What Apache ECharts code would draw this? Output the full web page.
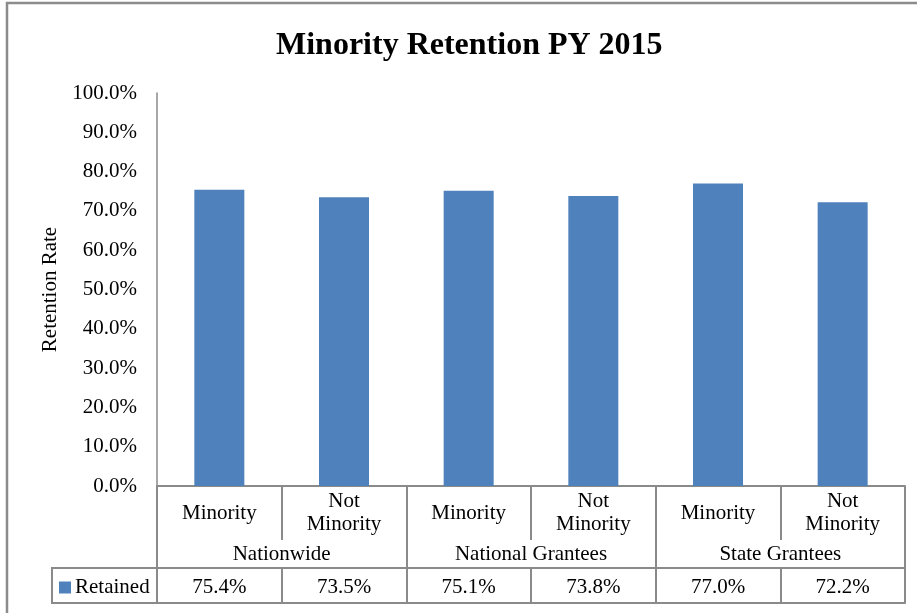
<!DOCTYPE html>
<html>
<head>
<meta charset="utf-8">
<script src="https://cdn.jsdelivr.net/npm/echarts@6/dist/echarts.min.js"></script>
<style>
  html, body { margin: 0; padding: 0; background: #fff; }
  #chart { width: 917px; height: 613px; }
</style>
</head>
<body>
<div id="chart"></div>
<script>
// data
var categories = ['Minority', 'Not\nMinority', 'Minority', 'Not\nMinority', 'Minority', 'Not\nMinority'];
var groups = ['Nationwide', 'National Grantees', 'State Grantees'];
var retained = [75.4, 73.5, 75.1, 73.8, 77.0, 72.2];
var yTicks = [0, 10, 20, 30, 40, 50, 60, 70, 80, 90, 100];

var font = "'Liberation Serif', 'Times New Roman', serif";
var lineGray = '#8a8a8a';

var chart = echarts.init(document.getElementById('chart'));

var option = {
  animation: false,
  textStyle: { fontFamily: font, color: '#000' },
  title: {
    text: 'Minority Retention PY 2015',
    left: 276,
    top: 30,
    padding: 0,
    textStyle: { fontFamily: font, fontSize: 32, fontWeight: 'bold', color: '#000' }
  },
  legend: {
    data: ['Retained'],
    left: 59,
    top: 577,
    padding: 0,
    icon: 'rect',
    itemWidth: 12,
    itemHeight: 12,
    itemGap: 5,
    textStyle: { fontFamily: font, fontSize: 21, color: '#000', padding: [0, 0, 0, -1] }
  },
  grid: { left: 157, right: 12, top: 93, bottom: 127 },
  xAxis: [
    {
      type: 'category',
      data: categories,
      position: 'bottom',
      axisLine: { lineStyle: { color: lineGray, width: 2 } },
      axisTick: { show: true, interval: 0, length: 54, lineStyle: { color: lineGray, width: 2 } },
      axisLabel: {
        interval: 0, margin: 27, verticalAlign: 'middle', lineHeight: 23,
        fontFamily: font, fontSize: 21, color: '#000'
      }
    },
    {
      type: 'category',
      data: groups,
      position: 'bottom',
      offset: 0,
      axisLine: { show: false },
      axisTick: { show: true, interval: 0, length: 117, lineStyle: { color: lineGray, width: 2 } },
      axisLabel: {
        interval: 0, margin: 68, verticalAlign: 'middle',
        fontFamily: font, fontSize: 21, color: '#000'
      }
    },
    {
      type: 'category',
      data: categories,
      position: 'bottom',
      offset: 82,
      axisLine: { show: true, lineStyle: { color: lineGray, width: 2 } },
      axisTick: { show: true, interval: 0, length: 35, lineStyle: { color: lineGray, width: 2 } },
      axisLabel: {
        interval: 0, margin: 19, verticalAlign: 'middle',
        fontFamily: font, fontSize: 21, color: '#000',
        formatter: function (v, i) { return retained[i].toFixed(1) + '%'; }
      }
    },
    {
      type: 'category',
      data: categories,
      position: 'bottom',
      offset: 117,
      axisLine: { show: true, lineStyle: { color: lineGray, width: 2 } },
      axisTick: { show: false },
      axisLabel: { show: false }
    }
  ],
  yAxis: {
    type: 'value',
    min: yTicks[0],
    max: yTicks[yTicks.length - 1],
    interval: 10,
    name: 'Retention Rate',
    nameLocation: 'middle',
    nameGap: 94,
    nameTextStyle: { fontFamily: font, fontSize: 21, color: '#000' },
    axisLine: { show: true, lineStyle: { color: lineGray, width: 1.5 } },
    axisTick: { show: false },
    splitLine: { show: false },
    axisLabel: {
      margin: 20,
      fontFamily: font, fontSize: 21, color: '#000',
      formatter: function (v) { return v.toFixed(1) + '%'; }
    }
  },
  graphic: [
    {
      type: 'rect',
      shape: { x: 7, y: 3, width: 1000, height: 1000 },
      style: { fill: 'none', stroke: '#8c8c8c', lineWidth: 2.5 },
      silent: true
    },
    {
      type: 'rect',
      shape: { x: 52, y: 568, width: 105, height: 35 },
      style: { fill: 'none', stroke: lineGray, lineWidth: 2 },
      silent: true
    }
  ],
  series: [
    {
      name: 'Retained',
      type: 'bar',
      xAxisIndex: 0,
      barWidth: 50,
      itemStyle: { color: '#4F81BD' },
      data: retained
    }
  ]
};

chart.setOption(option);
</script>
</body>
</html>
